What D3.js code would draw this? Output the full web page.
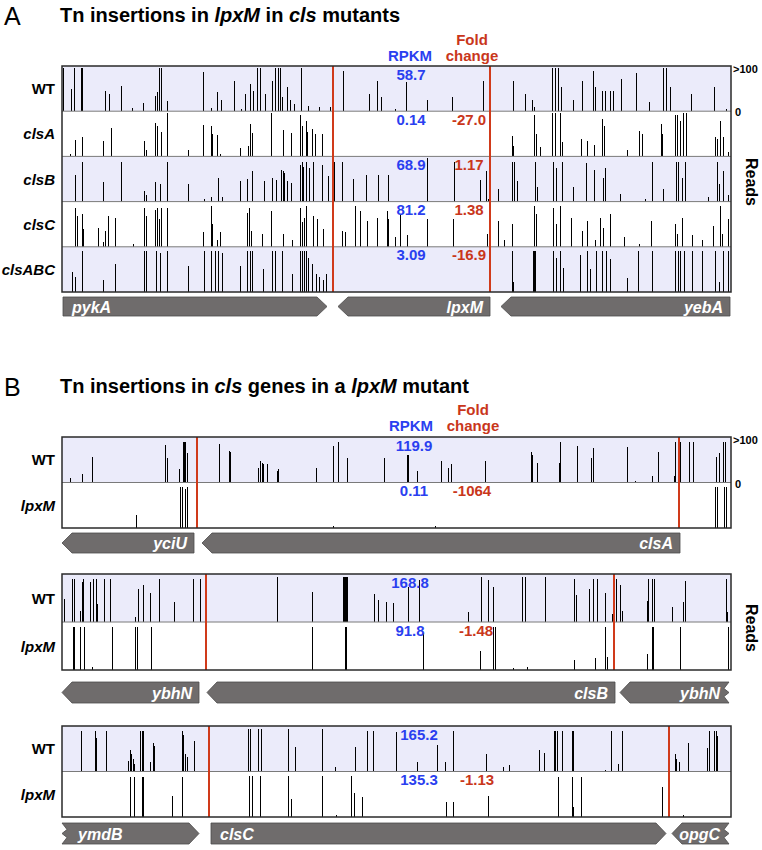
<!DOCTYPE html>
<html><head><meta charset="utf-8">
<script src="https://cdn.jsdelivr.net/npm/d3@7"></script>
<style>body{margin:0;background:#fff;} svg{display:block;font-family:"Liberation Sans",Arial,sans-serif;}</style>
</head><body><svg id="c" width="762" height="850"></svg>
<script>
// ---------- DATA (position in window units 0-669, reads 0-100 capped) ----------
const aWT = [[1,100],[9,51],[12,100],[19,100],[20,100],[43,47],[47,40],[59,58],[70,8],[81,18],[93,35],[95,45],[97,100],[99,100],[105,23],[141,89],[149,8],[155,44],[159,26],[172,70],[179,5],[183,40],[188,62],[191,47],[195,100],[198,100],[203,40],[210,70],[213,100],[216,100],[218,100],[220,32],[225,55],[228,25],[232,17],[239,100],[246,11],[257,10],[268,10],[281,92],[307,40],[315,70],[319,32],[333,6],[344,66],[365,26],[390,32],[421,70],[451,70],[463,40],[470,25],[472,10],[490,100],[493,100],[496,100],[499,55],[511,25],[520,70],[531,92],[533,55],[540,47],[543,47],[548,47],[551,47],[559,74],[574,88],[587,21],[601,100],[604,100],[608,55],[629,40],[652,55],[664,6]];
const aClsA = [[8,6],[13,37],[20,45],[41,35],[49,66],[82,35],[84,14],[93,77],[95,70],[99,55],[105,100],[126,14],[141,72],[149,70],[150,52],[155,48],[158,6],[178,20],[186,23],[188,75],[190,53],[209,100],[221,60],[229,53],[238,95],[240,70],[244,81],[245,55],[250,62],[253,51],[260,51],[450,47],[451,24],[472,94],[474,51],[478,21],[490,100],[493,100],[498,100],[500,32],[519,39],[525,35],[532,27],[540,85],[542,70],[565,14],[577,57],[580,51],[599,74],[600,51],[613,95],[615,95],[618,81],[621,100],[624,100],[653,44],[655,40],[658,81],[661,44],[666,10]];
const aClsB = [[13,62],[20,91],[41,45],[59,91],[82,25],[84,15],[93,44],[98,40],[105,91],[126,40],[142,5],[149,11],[156,55],[160,11],[178,47],[185,51],[190,69],[202,47],[210,53],[214,49],[219,73],[221,71],[222,66],[225,47],[229,42],[238,84],[240,91],[241,80],[244,91],[247,77],[251,91],[260,84],[266,58],[272,91],[280,91],[291,51],[304,62],[316,62],[326,62],[365,100],[392,91],[418,49],[424,69],[426,7],[436,29],[450,91],[452,91],[455,47],[473,91],[475,33],[491,91],[494,77],[500,91],[511,33],[524,88],[532,73],[541,55],[543,77],[558,18],[583,7],[590,91],[601,29],[614,91],[616,91],[620,55],[623,91],[646,11],[655,91],[657,40],[661,69],[666,15]];
const aClsC = [[13,89],[15,70],[20,74],[21,41],[36,44],[41,11],[43,37],[46,70],[53,67],[71,7],[82,89],[84,70],[93,85],[95,89],[97,63],[99,89],[105,89],[141,33],[149,93],[150,52],[155,15],[158,33],[185,78],[187,89],[189,37],[200,30],[209,81],[221,30],[230,15],[238,89],[240,56],[242,67],[244,93],[251,70],[255,63],[261,41],[271,11],[280,37],[283,33],[293,93],[298,81],[305,59],[315,67],[325,81],[326,63],[333,22],[338,74],[345,26],[365,63],[391,63],[425,30],[436,59],[442,15],[450,52],[472,93],[474,74],[491,89],[494,52],[498,93],[509,67],[520,37],[525,59],[533,15],[538,67],[541,44],[548,74],[562,22],[577,7],[589,59],[613,52],[615,30],[620,67],[630,26],[640,15],[651,48],[658,93],[660,30],[666,63]];
const aClsABC = [[10,45],[13,34],[20,93],[41,27],[53,64],[82,93],[84,93],[94,93],[98,89],[105,93],[126,60],[142,93],[149,93],[153,93],[156,93],[160,89],[178,60],[185,93],[188,93],[190,93],[201,53],[210,93],[213,93],[220,93],[230,42],[238,93],[240,93],[242,93],[244,93],[246,78],[250,64],[254,42],[257,34],[261,27],[264,42],[450,93],[451,23],[471,93],[472,93],[473,93],[491,93],[494,78],[498,93],[501,56],[518,85],[525,93],[528,53],[534,93],[540,93],[544,93],[548,75],[565,31],[576,93],[590,93],[613,93],[616,93],[618,93],[622,93],[630,93],[640,93],[653,93],[657,23],[661,93],[666,93]];
const b1WT = [[8,10],[20,20],[30,59],[103,85],[105,56],[117,30],[121,93],[122,93],[123,93],[125,67],[157,87],[167,72],[168,70],[196,33],[198,48],[200,44],[201,41],[205,41],[215,26],[216,30],[254,33],[271,84],[276,93],[285,56],[322,56],[345,63],[346,63],[355,26],[379,48],[386,33],[389,41],[423,48],[469,70],[470,63],[475,44],[497,44],[498,93],[515,84],[529,56],[531,79],[565,81],[573,4],[590,15],[596,70],[612,15],[613,93],[618,93],[627,93],[631,93],[654,59],[657,67],[661,93],[663,93]];
const b1Lpx = [[74,30],[118,93],[120,93],[123,89],[125,93],[271,5],[373,4],[653,93],[655,93],[662,93],[664,93]];
const b2WT = [[2,49],[10,93],[12,93],[18,24],[20,87],[21,93],[28,87],[31,93],[34,93],[35,38],[42,93],[48,93],[73,10],[76,70],[81,79],[88,63],[97,93],[112,44],[131,93],[138,93],[215,96],[250,65],[281,96],[282,96],[283,96],[284,96],[285,96],[312,61],[316,47],[324,43],[331,40],[346,76],[357,90],[406,22],[419,96],[426,90],[431,76],[460,96],[463,96],[483,96],[512,93],[514,59],[527,70],[531,93],[535,93],[543,63],[550,17],[551,38],[554,93],[558,80],[560,24],[585,45],[586,93],[590,93],[592,93],[610,33],[621,42],[623,89],[664,93],[665,21]];
const b2Lpx = [[11,93],[12,93],[18,93],[22,93],[30,7],[50,93],[73,93],[75,93],[89,93],[250,93],[283,93],[284,93],[361,80],[418,40],[431,93],[433,93],[451,5],[465,7],[512,22],[533,26],[543,93],[545,28],[585,34],[590,93],[591,93],[618,93],[666,93]];
const b3WT = [[19,93],[33,93],[34,76],[44,93],[66,24],[68,50],[69,39],[71,28],[72,17],[78,93],[80,93],[81,93],[88,21],[91,65],[92,57],[120,91],[121,84],[123,39],[125,32],[132,70],[186,96],[188,96],[196,96],[199,96],[226,96],[233,55],[260,96],[273,10],[293,55],[305,93],[311,93],[334,90],[355,22],[375,60],[383,22],[391,93],[424,40],[441,10],[447,14],[477,50],[482,43],[492,93],[493,93],[495,93],[500,93],[510,91],[511,91],[543,4],[549,93],[556,16],[560,93],[613,39],[614,28],[617,21],[626,65],[645,54],[647,93],[652,93],[654,93],[655,80]];
const b3Lpx = [[68,91],[72,91],[80,91],[81,91],[110,47],[120,91],[187,93],[190,93],[198,93],[226,93],[229,40],[260,93],[274,5],[289,93],[292,55],[300,45],[384,33],[391,33],[426,47],[496,91],[510,91],[511,23],[519,91],[600,69],[621,4]];

const strainsA = ["WT","clsA","clsB","clsC","clsABC"];
const rpkmA = ["58.7","0.14","68.9","81.2","3.09"];
const foldA = ["","-27.0","1.17","1.38","-16.9"];
const strainsB = ["WT","lpxM"];
const rpkmB1 = ["119.9","0.11"], foldB1 = ["","-1064"];
const rpkmB2 = ["168.8","91.8"], foldB2 = ["","-1.48"];
const rpkmB3 = ["165.2","135.3"], foldB3 = ["","-1.13"];
const redA = [271,428], redB1 = [135,617], redB2 = [144,552], redB3 = [147,607];
const genesA = [{name:"pykA",start:1,end:265,strand:1},{name:"lpxM",start:276,end:428,strand:-1},{name:"yebA",start:439,end:668,strand:-1}];
const genesB1 = [{name:"yciU",start:0,end:132,strand:-1},{name:"clsA",start:140,end:618,strand:-1}];
const genesB2 = [{name:"ybhN",start:0,end:137,strand:-1},{name:"clsB",start:145,end:553,strand:-1},{name:"ybhN",start:558,end:667,strand:-1,cutEnd:true}];
const genesB3 = [{name:"ymdB",start:0,end:137,strand:1,cutStart:true},{name:"clsC",start:149,end:604,strand:1},{name:"opgC",start:610,end:667,strand:-1,cutEnd:true}];
const scaleTicks = [">100","0"];

// ---------- DRAW ----------
const svg = d3.select("#c");
const x = d3.scaleLinear().domain([0,669]).range([62,731]);
const BLUE = "#2a3ff0", RED = "#c9361b";

function tracks(names, datas, rp, fc){ return names.map((n,i)=>({name:n, data:datas[i], rpkm:rp[i], fold:fc[i]})); }
const layout = [
 {top:66, rowH:45.2, tr:tracks(strainsA,[aWT,aClsA,aClsB,aClsC,aClsABC],rpkmA,foldA), red:redA, genes:genesA, gTop:297, gH:19, ticks:true, rx:411, fx:469, reads:182},
 {top:437, rowH:45.5, tr:tracks(strainsB,[b1WT,b1Lpx],rpkmB1,foldB1), red:redB1, genes:genesB1, gTop:533, gH:20, ticks:true, rx:414, fx:472},
 {top:574, rowH:48, tr:tracks(strainsB,[b2WT,b2Lpx],rpkmB2,foldB2), red:redB2, genes:genesB2, gTop:682, gH:21, rx:410, fx:476, reads:628},
 {top:726, rowH:45.5, tr:tracks(strainsB,[b3WT,b3Lpx],rpkmB3,foldB3), red:redB3, genes:genesB3, gTop:823, gH:21, rx:419, fx:477}
];

layout.forEach(L=>{
  const g = svg.append("g");
  const n = L.tr.length, bottom = L.top + n*L.rowH;
  L.tr.forEach((t,i)=>{
    const rt = L.top + i*L.rowH, rb = rt + L.rowH;
    const y = d3.scaleLinear().domain([0,100]).range([rb, rt+1.5]);
    g.append("rect").attr("x",x(0)).attr("y",rt).attr("width",x(669)-x(0)).attr("height",L.rowH)
      .attr("fill", i%2===0 ? "#ebebfa" : "#ffffff");
    g.append("g").attr("shape-rendering","crispEdges").selectAll("rect").data(t.data).join("rect")
      .attr("x",d=>Math.round(x(d[0]))).attr("width",1.2)
      .attr("y",d=>y(d[1])).attr("height",d=>rb-y(d[1]))
      .attr("fill","#000");
    if(i>0) g.append("line").attr("x1",x(0)).attr("x2",x(669)).attr("y1",rt).attr("y2",rt).attr("stroke","#7a7a7a").attr("stroke-width",1);
    const lab = g.append("text").attr("x",55).attr("y",(rt+rb)/2+5.5).attr("text-anchor","end")
      .attr("font-size",15).attr("font-weight","bold").text(t.name);
    if(t.name!=="WT") lab.attr("font-style","italic");
    g.append("text").attr("x",L.rx).attr("y",rt+13.5).attr("text-anchor","middle").attr("font-size",15)
      .attr("font-weight","bold").attr("fill",BLUE).text(t.rpkm);
    if(t.fold) g.append("text").attr("x",L.fx).attr("y",rt+13.5).attr("text-anchor","middle").attr("font-size",15)
      .attr("font-weight","bold").attr("fill",RED).text(t.fold);
  });
  L.red.forEach(p=>{
    g.append("line").attr("x1",x(p)).attr("x2",x(p)).attr("y1",L.top).attr("y2",bottom).attr("stroke","#d03a1a").attr("stroke-width",2);
  });
  g.append("rect").attr("x",x(0)).attr("y",L.top).attr("width",x(669)-x(0)).attr("height",bottom-L.top)
    .attr("fill","none").attr("stroke","#2a2a2a").attr("stroke-width",1.5);
  if(L.ticks){
    g.append("text").attr("x",x(669)+2).attr("y",L.top+7).attr("font-size",11).attr("font-weight","bold").text(scaleTicks[0]);
    g.append("text").attr("x",x(669)+4).attr("y",L.top+L.rowH+5).attr("font-size",11).attr("font-weight","bold").text(scaleTicks[1]);
  }
  if(L.reads) g.append("text").attr("transform",`translate(746,${L.reads}) rotate(90)`).attr("text-anchor","middle")
    .attr("font-size",16).attr("font-weight","bold").text("Reads");
  // genes
  const t0 = L.gTop, t1 = L.gTop + L.gH, m = (t0+t1)/2, hd = 10, nt = 5;
  L.genes.forEach(G=>{
    const s = x(G.start), e = x(G.end);
    let pts;
    if(G.strand>0){
      pts = G.cutStart ? [[s,t0],[e-hd,t0],[e,m],[e-hd,t1],[s,t1],[s+nt,m+4],[s,m],[s+nt,m-4]]
                       : [[s,t0],[e-hd,t0],[e,m],[e-hd,t1],[s,t1]];
    } else {
      pts = [[s,m],[s+hd,t0],[e,t0]];
      if(G.cutEnd) pts.push([e-nt,m-4],[e,m],[e-nt,m+4]);
      pts.push([e,t1],[s+hd,t1]);
    }
    g.append("path").attr("d","M"+pts.map(p=>p.join(",")).join("L")+"Z")
      .attr("fill","#6f6c6c").attr("stroke","#4d4b4b").attr("stroke-width",0.8);
    const tx = g.append("text").attr("y",m+6).attr("font-size",16).attr("font-weight","bold")
      .attr("font-style","italic").attr("fill","#ffffff").text(G.name);
    if(G.strand>0) tx.attr("x", s + (G.cutStart?16:9)).attr("text-anchor","start");
    else tx.attr("x", e - (G.cutEnd?9:7)).attr("text-anchor","end");
  });
});

// headers
function header(yb, rx, fx){
  svg.append("text").attr("x",rx).attr("y",yb).attr("text-anchor","middle").attr("font-size",15).attr("font-weight","bold").attr("fill",BLUE).text("RPKM");
  svg.append("text").attr("x",fx).attr("y",yb-16).attr("text-anchor","middle").attr("font-size",15).attr("font-weight","bold").attr("fill",RED).text("Fold");
  svg.append("text").attr("x",fx).attr("y",yb).attr("text-anchor","middle").attr("font-size",15).attr("font-weight","bold").attr("fill",RED).text("change");
}
header(61, 410, 472);
header(431, 411, 473);

function title(yb, letter, parts){
  svg.append("text").attr("x",4).attr("y",yb+3).attr("font-size",25).text(letter);
  const t = svg.append("text").attr("x",60).attr("y",yb).attr("font-size",20).attr("font-weight","bold");
  parts.forEach(p=>{ const s=t.append("tspan").text(p[0]); if(p[1]) s.attr("font-style","italic"); });
}
title(22, "A", [["Tn insertions in ",0],["lpxM",1],[" in ",0],["cls",1],[" mutants",0]]);
title(393, "B", [["Tn insertions in ",0],["cls",1],[" genes in a ",0],["lpxM",1],[" mutant",0]]);
</script></body></html>
